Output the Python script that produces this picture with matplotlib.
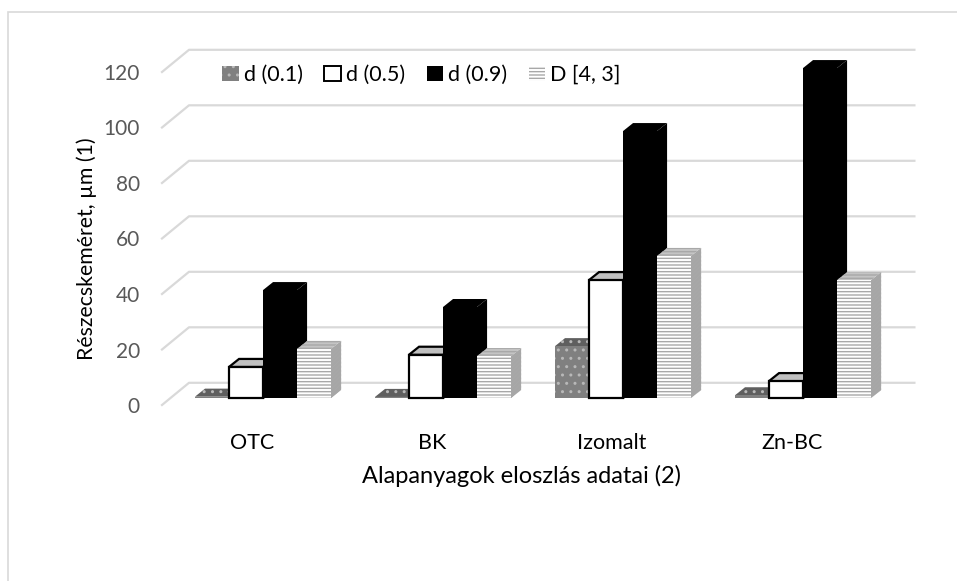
import matplotlib.pyplot as plt
from matplotlib.patches import Patch, Polygon, Rectangle

plt.rcParams["font.family"] = ["Lato", "DejaVu Sans"]

categories = ["OTC", "BK", "Izomalt", "Zn-BC"]
series_names = ["d (0.1)", "d (0.5)", "d (0.9)", "D [4, 3]"]
d01 = [0.5, 0.4, 18.7, 1.0]
d05 = [11.2, 15.6, 42.5, 6.1]
d09 = [38.9, 32.8, 96.2, 118.9]
d43 = [17.7, 15.1, 51.2, 42.5]
y_ticks = [0, 20, 40, 60, 80, 100, 120]

# pseudo-3d geometry, in data units (x: categories, y: µm)
WALL_DX, WALL_DY = 0.15, 8.0
BAR_X0, BAR_Y0 = 0.183, 2.5
BAR_W = 0.189
BAR_DX, BAR_DY = 0.056, 2.9

styles = [
    dict(face="#808080", top="#5f5f5f", side="#6a6a6a", hatch="..", hcol="#b8b8b8", edge=None),
    dict(face="white", top="#c0c0c0", side="#a0a0a0", hatch=None, hcol=None, edge="black"),
    dict(face="black", top="black", side="black", hatch=None, hcol=None, edge=None),
    dict(face="white", top="#c4c4c4", side="#a6a6a6", hatch="-----", hcol="#a8a8a8", edge=None),
]

fig = plt.figure(figsize=(9.57, 5.81), dpi=100)
fig.patches.append(Rectangle((8 / 957, -0.1), 1.2, (581 - 12) / 581 + 0.1,
                             transform=fig.transFigure, fill=False,
                             edgecolor="#d9d9d9", linewidth=1.2))

ax = fig.add_axes([162 / 957, 176 / 581, 720 / 957, 333 / 581])
ax.set_xlim(0, len(categories))
ax.set_ylim(0, 120)
for s in ax.spines.values():
    s.set_visible(False)

# back wall gridlines with the short diagonal on the side wall
right_end = len(categories) + 0.18
for t in y_ticks:
    ax.plot([0, WALL_DX, right_end], [t, t + WALL_DY, t + WALL_DY],
            color="#d9d9d9", lw=1.6, clip_on=False, zorder=1)


def draw_bar(x0, v, st, z):
    y0 = BAR_Y0
    side = [(x0 + BAR_W, y0), (x0 + BAR_W + BAR_DX, y0 + BAR_DY),
            (x0 + BAR_W + BAR_DX, y0 + v + BAR_DY), (x0 + BAR_W, y0 + v)]
    top = [(x0, y0 + v), (x0 + BAR_W, y0 + v),
           (x0 + BAR_W + BAR_DX, y0 + v + BAR_DY), (x0 + BAR_DX, y0 + v + BAR_DY)]
    ec = st["edge"] or st["hcol"] or st["side"]
    lw = 1.6 if st["edge"] else 0
    ax.add_patch(Polygon(side, closed=True, facecolor=st["side"], edgecolor=ec,
                         hatch="////////" if st["hatch"] == "-----" else st["hatch"],
                         lw=lw, clip_on=False, zorder=z))
    ax.add_patch(Polygon(top, closed=True, facecolor=st["top"], edgecolor=ec,
                         hatch=st["hatch"], lw=lw, clip_on=False, zorder=z))
    ax.bar(x0, v, bottom=y0, width=BAR_W, align="edge", facecolor=st["face"],
           edgecolor=ec, hatch=st["hatch"], linewidth=lw, clip_on=False,
           zorder=z + 0.5)


series = [d01, d05, d09, d43]
for i in range(len(categories)):
    for j, vals in enumerate(series):
        draw_bar(i + BAR_X0 + j * BAR_W, vals[i], styles[j], 2 + i * 4 + j)

ax.set_yticks(y_ticks)
ax.set_yticklabels([str(t) for t in y_ticks], color="#595959", fontsize=15)
ax.set_xticks([i + 0.5 for i in range(len(categories))])
ax.set_xticklabels(categories, fontsize=15.5)
ax.tick_params(axis="y", length=0, pad=16)
ax.tick_params(axis="x", length=0, pad=20)
ax.set_xlabel("Alapanyagok eloszlás adatai (2)", fontsize=17, labelpad=9)
ax.set_ylabel("Részecskeméret, µm (1)", fontsize=15.3)
ax.yaxis.set_label_coords(-0.09, 0.468)

handles = [Patch(facecolor=st["face"], edgecolor=st["edge"] or st["hcol"] or st["face"],
                 hatch=st["hatch"], lw=1.4 if st["edge"] else 0) for st in styles]
fig.legend(handles, series_names, loc="center left",
           bbox_to_anchor=(203 / 957, 1 - 75 / 581), ncol=4, frameon=False,
           fontsize=15.5, handlelength=0.75, handleheight=0.75, handletextpad=0.25,
           columnspacing=1.0)

fig.savefig("out.png", dpi=100)
